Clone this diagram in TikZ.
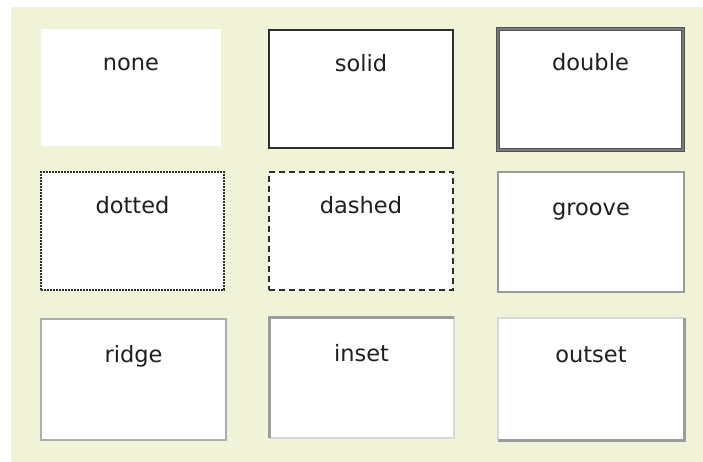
\documentclass[tikz,border=0pt]{standalone}
\usepackage{fontspec}
\setmainfont{DejaVu Sans}
\begin{document}
\begin{tikzpicture}[x=1pt,y=-1pt,
  boxst/.style={rectangle,fill=white,inner sep=0pt,outer sep=0pt},
  lbl/.style={anchor=base,inner sep=0pt,font=\fontsize{22.5}{26}\selectfont,text=black!88}]
\definecolor{bgc}{HTML}{F1F3D8}
\definecolor{dk}{HTML}{2E2E2E}
\definecolor{gr}{HTML}{9C9C9C}
\definecolor{lg}{HTML}{D8D8D8}
\useasboundingbox (0,0) rectangle (703,462);
\fill[white] (0,0) rectangle (703,462);
\fill[bgc] (11,7) rectangle (703,462);
% boxes
\node[boxst,minimum width=180pt,minimum height=117pt] (none) at (131,87.5) {};
\node[boxst,draw=dk,line width=2pt,minimum width=184pt,minimum height=118pt] (solid) at (361,89) {};
\node[boxst,draw=black!68,line width=1.4pt,double=black!52,double distance=1.1pt,minimum width=185pt,minimum height=121pt] (double) at (590.5,89.5) {};
\node[boxst,draw=dk,line width=2pt,dash pattern=on 1.6pt off 1.4pt,minimum width=183pt,minimum height=118pt] (dotted) at (132.5,231) {};
\node[boxst,draw=dk,line width=2pt,dash pattern=on 6pt off 4pt,minimum width=184pt,minimum height=118pt] (dashed) at (361,231) {};
\node[boxst,draw=gr,line width=2.2pt,minimum width=186pt,minimum height=120pt] (groove) at (591,232) {};
\node[boxst,draw=black!32,line width=2.2pt,minimum width=185pt,minimum height=121pt] (ridge) at (133.5,379.5) {};
\node[boxst,minimum width=185pt,minimum height=121pt] (inset) at (361.5,377.5) {};
\node[boxst,minimum width=186pt,minimum height=122pt] (outset) at (591,379) {};
% inset/outset borders
\draw[lg,line width=1.5pt] (inset.south west) -- (inset.south east) -- (inset.north east);
\draw[gr,line width=3pt] (inset.south west) -- (inset.north west) -- (inset.north east);
\draw[lg,line width=1.5pt] (outset.south west) -- (outset.north west) -- (outset.north east);
\draw[gr,line width=3pt] (outset.south west) -- (outset.south east) -- (outset.north east);
% labels
\node[lbl] (tnone) at ([yshift=-42pt]none.north) {none};
\node[lbl] (tsolid) at ([yshift=-42pt]solid.north) {solid};
\node[lbl] (tdouble) at ([yshift=-42pt]double.north) {double};
\node[lbl] (tdotted) at ([yshift=-42pt]dotted.north) {dotted};
\node[lbl] (tdashed) at ([yshift=-42pt]dashed.north) {dashed};
\node[lbl] (tgroove) at ([yshift=-43pt]groove.north) {groove};
\node[lbl] (tridge) at ([yshift=-43pt]ridge.north) {ridge};
\node[lbl] (tinset) at ([yshift=-44pt]inset.north) {inset};
\node[lbl] (toutset) at ([yshift=-44pt]outset.north) {outset};
\end{tikzpicture}
\end{document}
